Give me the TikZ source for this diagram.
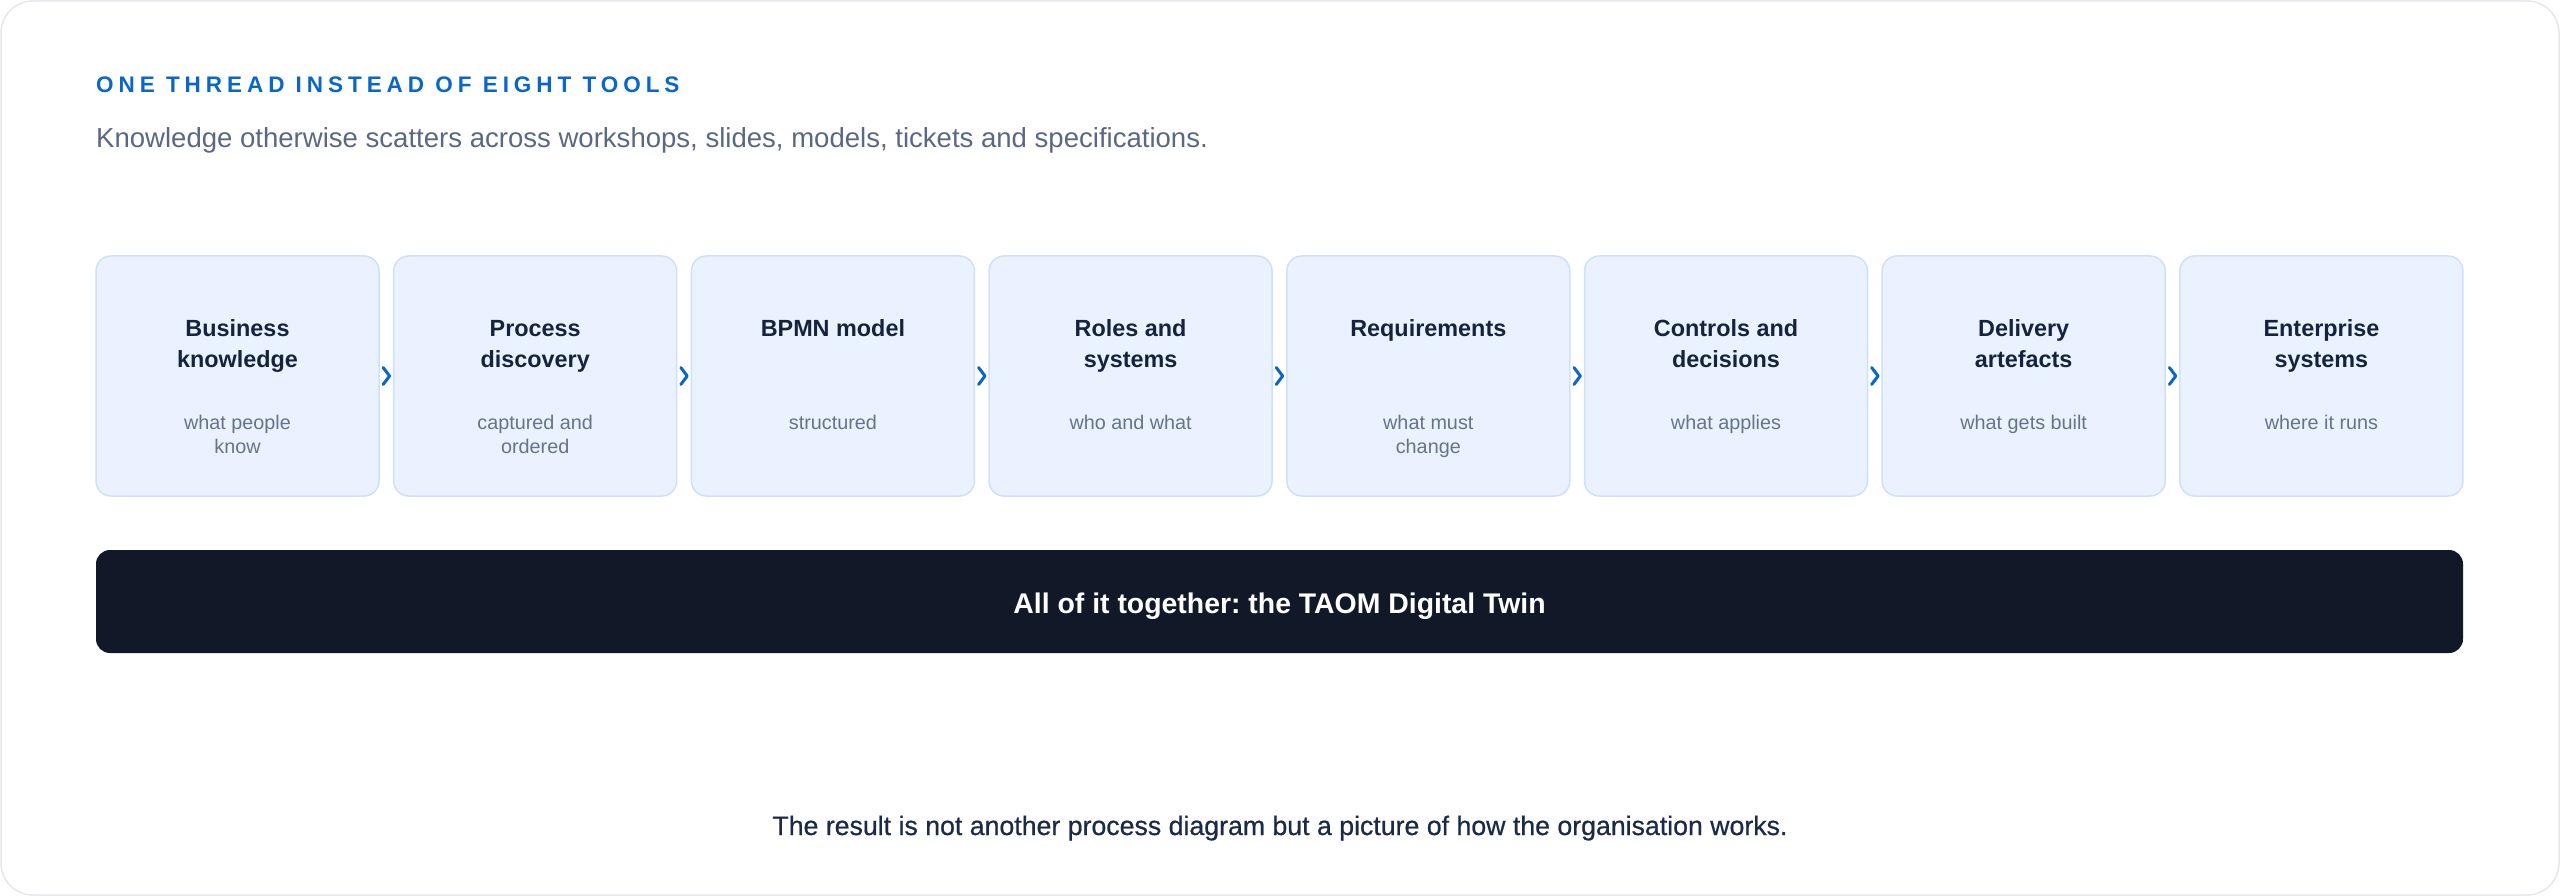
\documentclass[tikz,border=0pt]{standalone}
\usepackage{fontspec}
\setmainfont{Liberation Sans}
\newfontfamily\headfont[LetterSpace=22]{Liberation Sans}
\newfontfamily\medfont[FakeBold=0.6]{Liberation Sans}
\usetikzlibrary{calc}
\definecolor{cardline}{HTML}{E4E7EC}
\definecolor{headblue}{HTML}{0A66C8}
\definecolor{subgray}{HTML}{5B6883}
\definecolor{boxfill}{HTML}{E9F2FE}
\definecolor{boxline}{HTML}{CFE0FA}
\definecolor{titlenavy}{HTML}{16233F}
\definecolor{notegray}{HTML}{65738B}
\definecolor{barfill}{HTML}{111827}
\definecolor{footnavy}{HTML}{1B2A47}
\begin{document}
\frenchspacing
\begin{tikzpicture}[x=1pt,y=-1pt,
  stepbox/.style={draw=boxline, fill=boxfill, line width=1.5pt, rounded corners=15pt,
    minimum width=283pt, minimum height=240pt, inner sep=0pt},
  steptitle/.style={anchor=north, inner sep=0pt, align=center, text=titlenavy,
    font=\fontsize{23.4}{30.5}\selectfont\bfseries},
  stepnote/.style={anchor=north, inner sep=0pt, align=center, text=notegray,
    font=\fontsize{19.8}{24}\selectfont},
  chev/.style={draw=headblue, line width=3pt, line cap=round, line join=round}]
\useasboundingbox (0,0) rectangle (2560,896);
\fill[white] (0,0) rectangle (2560,896);
\draw[cardline, line width=1.5pt, rounded corners=32pt] (1,1) rectangle (2559,895);
% header
\node[anchor=base west, inner sep=0pt, text=headblue,
  font=\fontsize{22.5}{27}\headfont\bfseries] (head) at (96,92.5) {ONE THREAD INSTEAD OF EIGHT TOOLS};
\node[anchor=base west, inner sep=0pt, text=subgray,
  font=\fontsize{27.55}{32}\selectfont] (sub) at (96,147.3)
  {Knowledge otherwise scatters across workshops, slides, models, tickets and specifications.};
% steps
\foreach \i/\t/\n in {1/{Business\\knowledge}/{what people\\know},
                      2/{Process\\discovery}/{captured and\\ordered},
                      3/{BPMN model}/{structured},
                      4/{Roles and\\systems}/{who and what},
                      5/{Requirements}/{what must\\change},
                      6/{Controls and\\decisions}/{what applies},
                      7/{Delivery\\artefacts}/{what gets built},
                      8/{Enterprise\\systems}/{where it runs}} {
  \node[stepbox] (b\i) at ({96+141.5+(\i-1)*297.7},376) {};
  \node[steptitle] (t\i) at ($(b\i.north)+(0,59.7)$) {\strut\t};
  \node[stepnote] (n\i) at ($(b\i.north)+(0,157.2)$) {\strut\n};
}
\foreach \a/\b in {1/2,2/3,3/4,4/5,5/6,6/7,7/8} {
  \coordinate (m\a) at ($(b\a.east)!0.5!(b\b.west)$);
  \draw[chev] ($(m\a)+(-3.2,-8.5)$) -- ($(m\a)+(3.2,0)$) -- ($(m\a)+(-3.2,8.5)$);
}
% bar
\node[fill=barfill, rounded corners=14pt, minimum width=2367pt, minimum height=103pt,
  inner sep=0pt] (bar) at (1279.5,601.5) {};
\node[anchor=base, inner sep=0pt, text=white, font=\fontsize{28.4}{34}\selectfont\bfseries]
  (bartext) at (1279.5,613.3) {All of it together: the TAOM Digital Twin};
% footer
\node[anchor=base, inner sep=0pt, text=footnavy, font=\fontsize{26.7}{32}\medfont]
  (foot) at (1280,835) {The result is not another process diagram but a picture of how the organisation works.};
\end{tikzpicture}
\end{document}
